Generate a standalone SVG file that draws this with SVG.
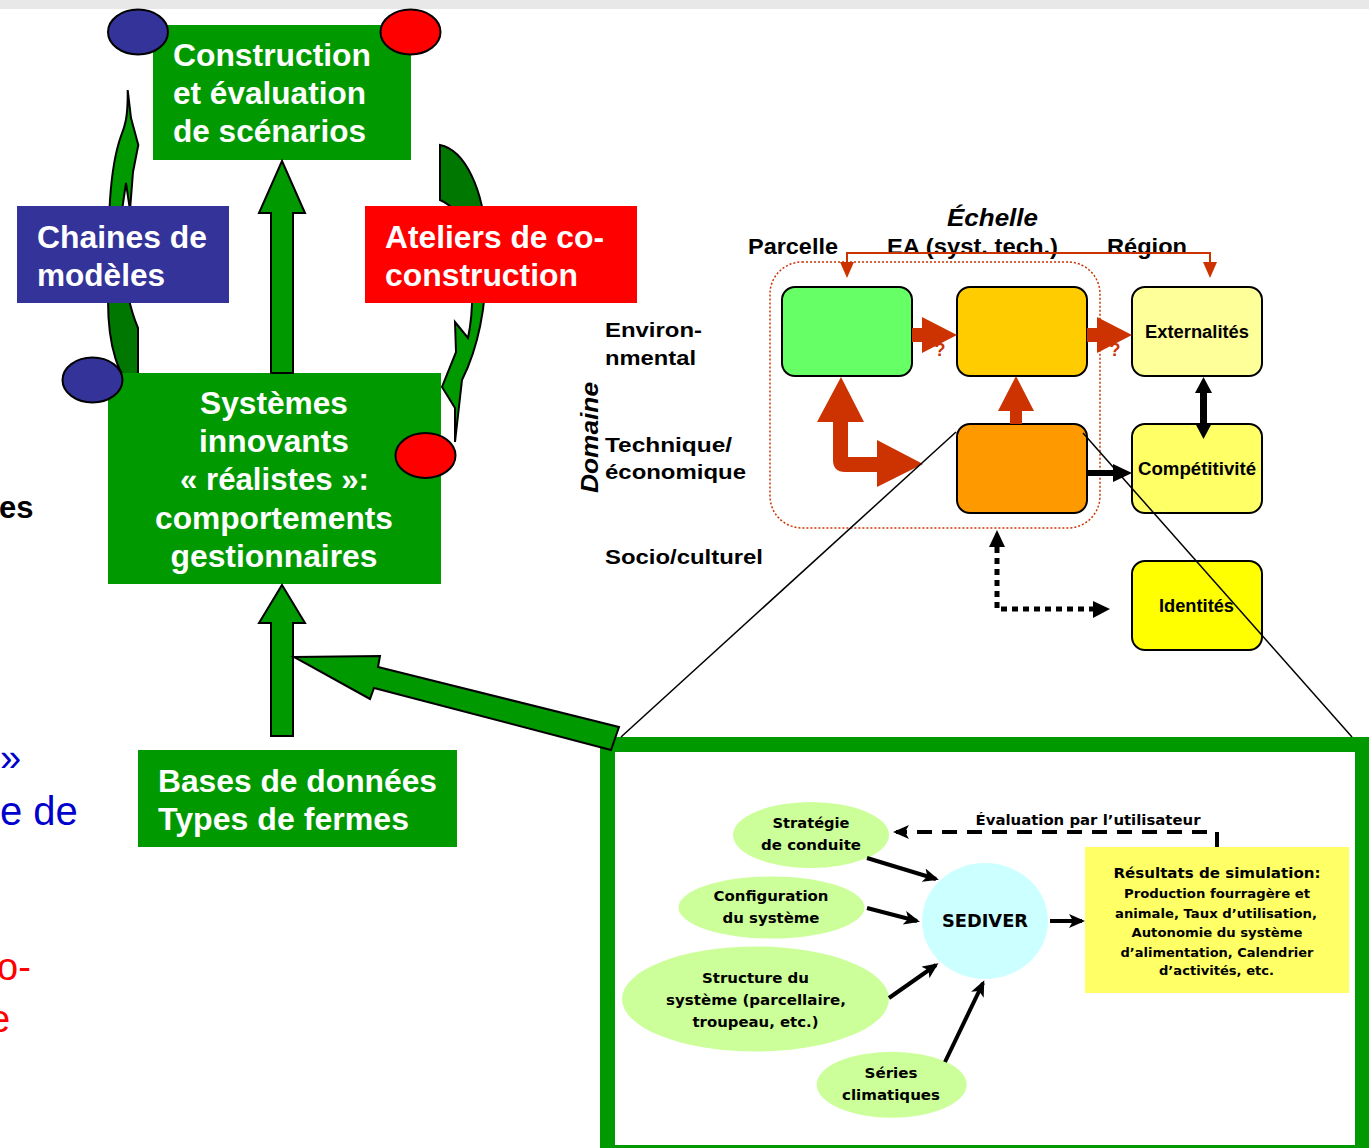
<svg xmlns="http://www.w3.org/2000/svg" width="1369" height="1148" viewBox="0 0 1369 1148">
<style>
.bx{font-family:"Liberation Sans",Arial,sans-serif;font-weight:bold;fill:#fff}
.lb{font-family:"Liberation Sans",Arial,sans-serif;font-weight:bold;fill:#000}
.it{font-family:"DejaVu Sans","Liberation Sans",sans-serif;font-weight:bold;fill:#000}
.edge{stroke:#000;stroke-width:2}
.rb{fill:#cc3300}
</style>
<defs>
<linearGradient id="gl" gradientUnits="userSpaceOnUse" x1="0" y1="92" x2="0" y2="388">
<stop offset="0" stop-color="#009900"/><stop offset="0.55" stop-color="#009900"/><stop offset="0.55" stop-color="#007700"/><stop offset="1" stop-color="#007700"/>
</linearGradient>
<linearGradient id="gr" gradientUnits="userSpaceOnUse" x1="0" y1="145" x2="0" y2="442">
<stop offset="0" stop-color="#007700"/><stop offset="0.4" stop-color="#007700"/><stop offset="0.4" stop-color="#009900"/><stop offset="1" stop-color="#009900"/>
</linearGradient>
<marker id="ah" viewBox="0 0 16 14" refX="13" refY="7" markerWidth="16" markerHeight="14" markerUnits="userSpaceOnUse" orient="auto">
<path d="M0,0 L16,7 L0,14 L4,7 Z" fill="#000"/>
</marker>
</defs>

<rect x="0" y="0" width="1369" height="9" fill="#e8e8e8"/>

<!-- left clipped texts (cut by the picture edge in the reference) -->
<g id="left-fragments" font-family="Liberation Sans, Arial, sans-serif">
<text x="-1" y="518" font-size="31" font-weight="bold" fill="#000">es</text>
<text x="0" y="771" font-size="38" fill="#0000cc">»</text>
<text x="0" y="825" font-size="40" fill="#0000cc">e de</text>
<text x="-3" y="980" font-size="38" fill="#ff0000">o-</text>
<text x="-11" y="1032" font-size="38" fill="#ff0000">e</text>
</g>

<!-- curved arrows -->
<g id="curved-connectors" stroke="#000" stroke-width="2" stroke-linejoin="miter">
<path d="M127.7,90 L131,118 L138.3,145 L133,172 L130,210 L126,183 L122,210 C121,250 124,295 138,328 L138,388 C118,382 108,345 108,300 C107,260 108,230 110,200 C112,170 116,150 121,136 C125,126 128,118 127.7,90 Z" fill="url(#gl)"/>
<path d="M440,145 C465,150 484,190 486,240 C488,290 482,340 462,380 L455,442 L455,408 L442,387 L456,352 L455,322 L468,338 C474,310 474,265 466,235 C460,215 452,205 440,200 Z" fill="url(#gr)"/>
</g>

<!-- nodes left -->
<g id="node-construction">
<rect x="153" y="25" width="258" height="135" fill="#009900"/>
<text class="bx" x="173" y="66" font-size="31.5" textLength="198" lengthAdjust="spacingAndGlyphs">Construction</text>
<text class="bx" x="173" y="104" font-size="31.5" textLength="193" lengthAdjust="spacingAndGlyphs">et évaluation</text>
<text class="bx" x="173" y="142" font-size="31.5" textLength="193" lengthAdjust="spacingAndGlyphs">de scénarios</text>
</g>
<g id="node-chaines">
<rect x="17" y="206" width="212" height="97" fill="#333399"/>
<text class="bx" x="37" y="248" font-size="32" textLength="170" lengthAdjust="spacingAndGlyphs">Chaines de</text>
<text class="bx" x="37" y="286" font-size="32" textLength="128" lengthAdjust="spacingAndGlyphs">modèles</text>
</g>
<g id="node-ateliers">
<rect x="365" y="206" width="272" height="97" fill="#ff0000"/>
<text class="bx" x="385" y="248" font-size="32" textLength="219" lengthAdjust="spacingAndGlyphs">Ateliers de co-</text>
<text class="bx" x="385" y="286" font-size="32" textLength="193" lengthAdjust="spacingAndGlyphs">construction</text>
</g>
<g id="node-systemes">
<rect x="108" y="373" width="333" height="211" fill="#009900"/>
<g text-anchor="middle">
<text class="bx" x="274" y="414" font-size="31.5" textLength="148" lengthAdjust="spacingAndGlyphs">Systèmes</text>
<text class="bx" x="274" y="452" font-size="31.5" textLength="150" lengthAdjust="spacingAndGlyphs">innovants</text>
<text class="bx" x="274.5" y="490" font-size="31.5" textLength="189" lengthAdjust="spacingAndGlyphs">« réalistes »:</text>
<text class="bx" x="274" y="529" font-size="31.5" textLength="238" lengthAdjust="spacingAndGlyphs">comportements</text>
<text class="bx" x="274" y="567" font-size="31.5" textLength="207" lengthAdjust="spacingAndGlyphs">gestionnaires</text>
</g>
</g>
<g id="node-bases">
<rect x="138" y="750" width="319" height="97" fill="#009900"/>
<text class="bx" x="158" y="792" font-size="31" textLength="279" lengthAdjust="spacingAndGlyphs">Bases de données</text>
<text class="bx" x="158" y="830" font-size="31" textLength="251" lengthAdjust="spacingAndGlyphs">Types de fermes</text>
</g>

<!-- big frame inset -->
<g id="node-inset-frame">
<rect x="607.5" y="744.5" width="755" height="408" fill="#fff" stroke="#009900" stroke-width="15"/>
</g>

<!-- left straight connectors -->
<g id="connectors-left" fill="#009900" stroke="#000" stroke-width="2" stroke-linejoin="miter">
<polygon points="282,161 305,213 293,213 293,373 271,373 271,213 259,213"/>
<polygon points="282,585 305,623 293,623 293,736 271,736 271,623 259,623"/>
<polygon points="294,657 380,656 378,667 619,727 611,750 374,688 370,699"/>
</g>

<!-- ellipses -->
<g id="markers-ellipses" stroke="#000" stroke-width="2">
<ellipse cx="138" cy="32" rx="30" ry="22.5" fill="#333399"/>
<ellipse cx="410.5" cy="32" rx="30" ry="22.5" fill="#ff0000"/>
<ellipse cx="92.5" cy="380" rx="30" ry="22.5" fill="#333399"/>
<ellipse cx="425.5" cy="455.5" rx="30" ry="22.5" fill="#ff0000"/>
</g>

<!-- right diagram labels -->
<g id="scale-labels">
<text class="lb" x="947" y="226" font-size="23" font-style="italic" textLength="91" lengthAdjust="spacingAndGlyphs">Échelle</text>
<text class="lb" x="748" y="254" font-size="22" textLength="90" lengthAdjust="spacingAndGlyphs">Parcelle</text>
<text class="lb" x="887" y="254" font-size="22" textLength="171" lengthAdjust="spacingAndGlyphs">EA (syst. tech.)</text>
<text class="lb" x="1107" y="254" font-size="22" textLength="80" lengthAdjust="spacingAndGlyphs">Région</text>
<text class="lb" x="605" y="337" font-size="21" textLength="97" lengthAdjust="spacingAndGlyphs">Environ-</text>
<text class="lb" x="605" y="365" font-size="21" textLength="91" lengthAdjust="spacingAndGlyphs">nmental</text>
<text class="lb" x="605" y="452" font-size="21" textLength="127" lengthAdjust="spacingAndGlyphs">Technique/</text>
<text class="lb" x="605" y="479" font-size="21" textLength="141" lengthAdjust="spacingAndGlyphs">économique</text>
<text class="lb" x="605" y="564" font-size="21" textLength="158" lengthAdjust="spacingAndGlyphs">Socio/culturel</text>
<text class="lb" transform="translate(598,437.5) rotate(-90)" x="0" y="0" text-anchor="middle" font-size="24" font-style="italic" textLength="111" lengthAdjust="spacingAndGlyphs">Domaine</text>
</g>

<!-- scale bracket and dotted frame -->
<g id="scale-bracket">
<path d="M847,263 L847,253 L1210,253 L1210,263" fill="none" stroke="#cc3300" stroke-width="2"/>
<polygon class="rb" points="840,262 854,262 847,278"/>
<polygon class="rb" points="1203,262 1217,262 1210,278"/>
<rect x="770" y="262" width="330" height="266" rx="32" fill="none" stroke="#cc3300" stroke-width="1.5" stroke-dasharray="2 2"/>
</g>

<!-- right diagram boxes -->
<g id="node-parcelle-env"><rect x="782" y="287" width="130" height="89" rx="13" fill="#66ff66" class="edge"/></g>
<g id="node-ea-env"><rect x="957" y="287" width="130" height="89" rx="13" fill="#ffcc00" class="edge"/></g>
<g id="node-ea-tech"><rect x="957" y="424" width="130" height="89" rx="13" fill="#ff9900" class="edge"/></g>
<g id="node-externalites"><rect x="1132" y="287" width="130" height="89" rx="13" fill="#ffff99" class="edge"/>
<text class="lb" x="1197" y="338" font-size="18" text-anchor="middle" textLength="104" lengthAdjust="spacingAndGlyphs">Externalités</text></g>
<g id="node-competitivite"><rect x="1132" y="424" width="130" height="89" rx="13" fill="#ffff66" class="edge"/>
<text class="lb" x="1197" y="475" font-size="18" text-anchor="middle" textLength="118" lengthAdjust="spacingAndGlyphs">Compétitivité</text></g>
<g id="node-identites"><rect x="1132" y="561" width="130" height="89" rx="13" fill="#ffff00" class="edge"/>
<text class="lb" x="1196.5" y="612" font-size="18" text-anchor="middle" textLength="75" lengthAdjust="spacingAndGlyphs">Identités</text></g>

<!-- right diagram connectors -->
<g id="connectors-right">
<text x="940" y="356" font-family="Liberation Sans, Arial, sans-serif" font-weight="bold" font-size="18" fill="#cc3300" text-anchor="middle">?</text>
<text x="1115" y="356" font-family="Liberation Sans, Arial, sans-serif" font-weight="bold" font-size="18" fill="#cc3300" text-anchor="middle">?</text>
<polygon class="rb" points="912,328 922,328 922,317 957,335 922,353 922,342 912,342"/>
<polygon class="rb" points="1087,328 1097,328 1097,317 1132,335 1097,353 1097,342 1087,342"/>
<polygon class="rb" points="1010,424 1010,411 998,411 1016,376 1034,411 1022,411 1022,424"/>
<path class="rb" d="M841,377 L864,422 L848,422 L848,457 L877,457 L877,440 L923,464 L877,487 L877,472 L845,472 Q833,472 833,460 L833,422 L817,422 Z"/>
<polygon points="1203.5,377 1212,393 1207,393 1207,423 1212,423 1203.5,439 1195,423 1200,423 1200,393 1195,393" fill="#000"/>
<polygon points="1087,470 1113,470 1113,464 1132,473 1113,482 1113,476 1087,476" fill="#000"/>
<path d="M997,547 L997,609 L1093,609" fill="none" stroke="#000" stroke-width="5" stroke-dasharray="6 5"/>
<polygon points="997,530 1005,547 989,547" fill="#000"/>
<polygon points="1093,601 1110,609 1093,618" fill="#000"/>
</g>

<!-- zoom lines -->
<g id="zoom-lines" stroke="#000" stroke-width="1.5">
<line x1="621" y1="737" x2="956" y2="432"/>
<line x1="1083" y1="433" x2="1352" y2="737"/>
</g>

<!-- inset nodes -->
<g id="node-strategie">
<ellipse cx="811" cy="835" rx="78" ry="33" fill="#ccff99"/>
<text class="it" x="811" y="828" font-size="14" text-anchor="middle" textLength="77" lengthAdjust="spacingAndGlyphs">Stratégie</text>
<text class="it" x="811" y="850" font-size="14" text-anchor="middle" textLength="100" lengthAdjust="spacingAndGlyphs">de conduite</text>
</g>
<g id="node-configuration">
<ellipse cx="771.5" cy="907.5" rx="93" ry="31" fill="#ccff99"/>
<text class="it" x="771" y="901" font-size="14" text-anchor="middle" textLength="115" lengthAdjust="spacingAndGlyphs">Configuration</text>
<text class="it" x="771" y="923" font-size="14" text-anchor="middle" textLength="97" lengthAdjust="spacingAndGlyphs">du système</text>
</g>
<g id="node-structure">
<ellipse cx="755.5" cy="999" rx="133.5" ry="52.5" fill="#ccff99"/>
<text class="it" x="755.5" y="983" font-size="14" text-anchor="middle" textLength="107" lengthAdjust="spacingAndGlyphs">Structure du</text>
<text class="it" x="756" y="1005" font-size="14" text-anchor="middle" textLength="180" lengthAdjust="spacingAndGlyphs">système (parcellaire,</text>
<text class="it" x="755.5" y="1027" font-size="14" text-anchor="middle" textLength="126" lengthAdjust="spacingAndGlyphs">troupeau, etc.)</text>
</g>
<g id="node-series">
<ellipse cx="891.7" cy="1084.7" rx="75" ry="33" fill="#ccff99"/>
<text class="it" x="891" y="1078" font-size="14" text-anchor="middle" textLength="53" lengthAdjust="spacingAndGlyphs">Séries</text>
<text class="it" x="891" y="1100" font-size="14" text-anchor="middle" textLength="98" lengthAdjust="spacingAndGlyphs">climatiques</text>
</g>
<g id="node-sediver">
<ellipse cx="985" cy="921" rx="63" ry="58" fill="#ccffff"/>
<text class="it" x="985" y="927" font-size="17" text-anchor="middle" textLength="86" lengthAdjust="spacingAndGlyphs">SEDIVER</text>
</g>
<g id="node-resultats">
<rect x="1085" y="847" width="264" height="146" fill="#ffff66"/>
<g text-anchor="middle">
<text class="it" x="1217" y="878" font-size="14" textLength="207" lengthAdjust="spacingAndGlyphs">Résultats de simulation:</text>
<text class="it" x="1217" y="898" font-size="13" textLength="186" lengthAdjust="spacingAndGlyphs">Production fourragère et</text>
<text class="it" x="1216" y="918" font-size="13" textLength="202" lengthAdjust="spacingAndGlyphs">animale, Taux d’utilisation,</text>
<text class="it" x="1217" y="937" font-size="13" textLength="171" lengthAdjust="spacingAndGlyphs">Autonomie du système</text>
<text class="it" x="1217" y="957" font-size="13" textLength="193" lengthAdjust="spacingAndGlyphs">d’alimentation, Calendrier</text>
<text class="it" x="1216.5" y="975" font-size="13" textLength="115" lengthAdjust="spacingAndGlyphs">d’activités, etc.</text>
</g>
</g>

<!-- inset connectors -->
<g id="connectors-inset" stroke="#000" stroke-width="4" fill="none">
<line x1="867" y1="858" x2="936" y2="879" marker-end="url(#ah)"/>
<line x1="867" y1="908" x2="917" y2="921" marker-end="url(#ah)"/>
<line x1="889" y1="998" x2="936" y2="965" marker-end="url(#ah)"/>
<line x1="945" y1="1062" x2="983" y2="983" marker-end="url(#ah)"/>
<line x1="1050" y1="921" x2="1082" y2="921" marker-end="url(#ah)"/>
<path d="M1217,847 L1217,832 L896,832" stroke-dasharray="15 10" marker-end="url(#ah)"/>
<text class="it" x="1088" y="825" font-size="14" stroke="none" text-anchor="middle" textLength="225" lengthAdjust="spacingAndGlyphs">Évaluation par l’utilisateur</text>
</g>
</svg>
